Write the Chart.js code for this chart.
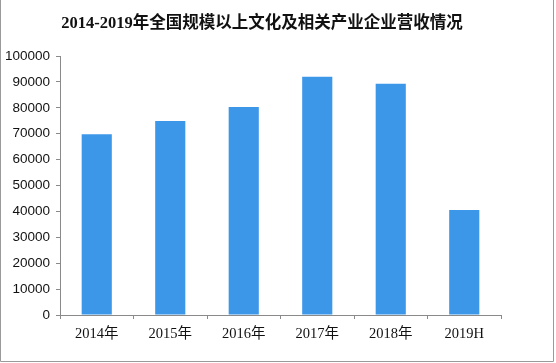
<!DOCTYPE html>
<html>
<head>
<meta charset="utf-8">
<script src="https://cdn.jsdelivr.net/npm/chart.js@4/dist/chart.umd.min.js"></script>
<style>
  html, body { margin: 0; padding: 0; background: #fff; }
  #wrap { width: 556px; height: 363px; }
</style>
</head>
<body>
<div id="wrap"><canvas id="revenueChart" width="556" height="363"></canvas></div>
<script>
// data
const titleText = "2014-2019年全国规模以上文化及相关产业企业营收情况";
const years = ["2014年", "2015年", "2016年", "2017年", "2018年", "2019H"];
const revenue = [69800, 74900, 80300, 91950, 89250, 40500];
const yTicks = [0, 10000, 20000, 30000, 40000, 50000, 60000, 70000, 80000, 90000, 100000];

// title + outer frame
const decorPlugin = {
  id: "decor",
  afterDraw(chart) {
    const c = chart.ctx;
    c.save();
    c.fillStyle = "#111";
    c.font = "bold 16.5px 'Liberation Serif', 'Noto Sans CJK SC', serif";
    c.textAlign = "center";
    c.textBaseline = "middle";
    c.fillText(titleText, 262, 24);
    c.strokeStyle = "#9a9a9a";
    c.lineWidth = 1;
    c.beginPath();
    c.moveTo(0.5, 0);
    c.lineTo(0.5, 361.5);
    c.lineTo(553.5, 361.5);
    c.lineTo(553.5, 0);
    c.stroke();
    c.restore();
  }
};

const ctx = document.getElementById("revenueChart").getContext("2d");
new Chart(ctx, {
  type: "bar",
  data: {
    labels: years,
    datasets: [
      {
        data: revenue,
        backgroundColor: "#3d97e9",
        barPercentage: 0.41,
        categoryPercentage: 1
      }
    ]
  },
  options: {
    responsive: false,
    animation: false,
    layout: { padding: { top: 56, right: 55, left: 0, bottom: 0 } },
    plugins: {
      legend: { display: false },
      tooltip: { enabled: false },
      title: { display: false }
    },
    scales: {
      x: {
        afterFit(scale) { scale.height = 48; },
        grid: { drawOnChartArea: false, drawTicks: true, tickLength: 4, color: "#8a8a8a", offset: true },
        border: { color: "#8a8a8a" },
        ticks: {
          color: "#111",
          padding: 6,
          font: { family: "'Liberation Serif', 'Noto Sans CJK SC', serif", size: 14.5 }
        }
      },
      y: {
        min: 0,
        max: 100000,
        afterFit(scale) { scale.width = 60; },
        afterBuildTicks(scale) { scale.ticks = yTicks.map(v => ({ value: v })); },
        grid: { drawOnChartArea: false, drawTicks: true, tickLength: 4, color: "#8a8a8a" },
        border: { color: "#8a8a8a" },
        ticks: {
          color: "#111",
          padding: 6,
          callback: v => String(v),
          font: { family: "'Liberation Sans', Arial, sans-serif", size: 13.5 }
        }
      }
    }
  },
  plugins: [decorPlugin]
});
</script>
</body>
</html>
